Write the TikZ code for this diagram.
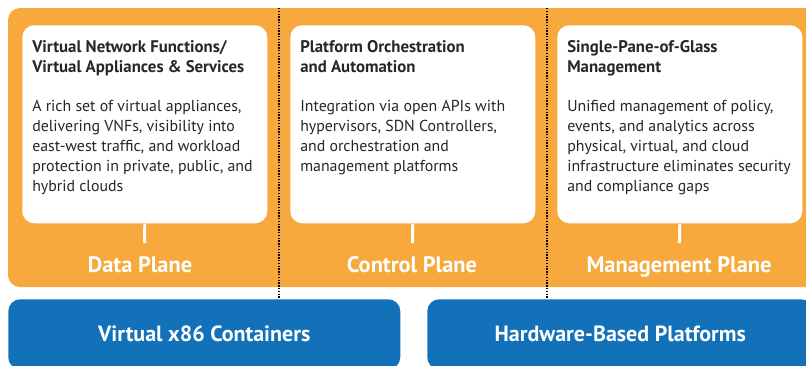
\documentclass[tikz,border=0pt]{standalone}
\usepackage{fontspec}
\setmainfont{PT Sans}
\usetikzlibrary{positioning}
\definecolor{planeorange}{RGB}{247,169,61}
\definecolor{baseblue}{RGB}{18,113,185}
\definecolor{textgray}{RGB}{40,38,38}
\newcommand{\boxhead}[1]{{\fontsize{12.6}{15}\selectfont\bfseries #1}}
\tikzstyle{planebg} = [fill=planeorange, rounded corners=9pt]
\tikzstyle{whitebox} = [rectangle, rounded corners=9pt, minimum width=183.75pt, minimum height=148.5pt, anchor=north west, fill=white, inner sep=0pt]
\tikzstyle{boxtext} = [align=left, anchor=north west, inner sep=0pt, text=textgray, font=\fontsize{11.9}{15}\selectfont]
\tikzstyle{planelabel} = [anchor=base, text=white, font=\fontsize{16.8}{18}\selectfont\bfseries]
\tikzstyle{basebox} = [rectangle, rounded corners=9pt, minimum height=52.5pt, anchor=north west, fill=baseblue, text=white, font=\fontsize{16.5}{18}\selectfont\bfseries]
\tikzstyle{divider} = [black, densely dotted, line width=1.1pt]
\tikzstyle{tick} = [white, line width=2.2pt]

\begin{document}
\begin{tikzpicture}[x=0.75pt, y=-0.75pt]
      \useasboundingbox (0,0) rectangle (806,365);
      \clip (0,0) rectangle (806,365);

      % orange band behind the three planes
      \fill [planebg] (8,8) rectangle (840,287);

      \coordinate (divAtop) at (279,8);
      \coordinate (divAbot) at (279,298);
      \coordinate (divBtop) at (547,8);
      \coordinate (divBbot) at (547,298);
      \draw [divider] (divAtop) -- (divAbot);
      \draw [divider] (divBtop) -- (divBbot);

      % the three planes
      \node (databox) [whitebox] at (22,25) {};
      \node (ctrlbox) [whitebox] at (290,25) {};
      \node (mgmtbox) [whitebox] at (557,25) {};

      \node (datatext) [boxtext, below right=11.5pt and 7.5pt of databox.north west]
        {\boxhead{Virtual Network Functions/}\\
         \boxhead{Virtual Appliances \& Services}\\[14pt]
         A rich set of virtual appliances,\\
         delivering VNFs, visibility into\\
         east-west traffic, and workload\\
         protection in private, public, and\\
         hybrid clouds};
      \node (ctrltext) [boxtext, below right=11.5pt and 7.5pt of ctrlbox.north west]
        {\boxhead{Platform Orchestration}\\
         \boxhead{and Automation}\\[14pt]
         Integration via open APIs with\\
         hypervisors, SDN Controllers,\\
         and orchestration and\\
         management platforms};
      \node (mgmttext) [boxtext, below right=11.5pt and 7.5pt of mgmtbox.north west]
        {\boxhead{Single-Pane-of-Glass}\\
         \boxhead{Management}\\[14pt]
         Unified management of policy,\\
         events, and analytics across\\
         physical, virtual, and cloud\\
         infrastructure eliminates security\\
         and compliance gaps};

      \node (datalabel) [planelabel] at (140,272) {Data Plane};
      \node (ctrllabel) [planelabel] at (412,272) {Control Plane};
      \node (mgmtlabel) [planelabel] at (679,272) {Management Plane};

      \coordinate (datatick) at (144.5,243);
      \coordinate (ctrltick) at (412.5,243);
      \coordinate (mgmttick) at (679.5,243);
      \draw [tick] (databox.south) -- (datatick);
      \draw [tick] (ctrlbox.south) -- (ctrltick);
      \draw [tick] (mgmtbox.south) -- (mgmttick);

      % platforms underneath
      \node (virtual) [basebox, minimum width=294pt] at (8,299) {Virtual x86 Containers};
      \node (hardware) [basebox, minimum width=289.5pt] at (427,299) {Hardware-Based Platforms};
    \end{tikzpicture}
\end{document}
